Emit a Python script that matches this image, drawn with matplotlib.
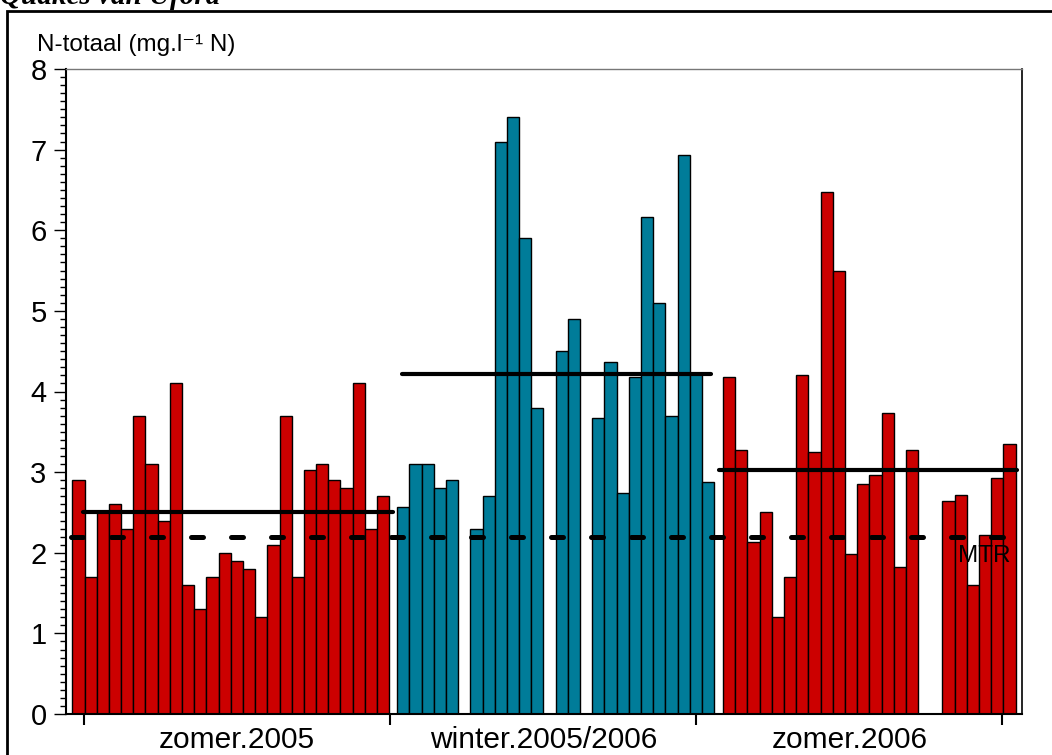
import numpy as np
import matplotlib.pyplot as plt
from matplotlib.patches import Rectangle
from matplotlib.ticker import MultipleLocator

plt.rcParams["font.family"] = ["Liberation Sans", "DejaVu Sans"]

# N-totaal per meetdag, gaten = geen meting
zomer_2005 = [2.9, 1.7, 2.5, 2.6, 2.3, 3.7, 3.1, 2.4, 4.1, 1.6, 1.3, 1.7, 2.0,
              1.9, 1.8, 1.2, 2.1, 3.7, 1.7, 3.03, 3.1, 2.9, 2.8, 4.1, 2.3, 2.7]
winter_2005_2006 = [2.57, 3.1, 3.1, 2.8, 2.9, np.nan, 2.3, 2.7, 7.1, 7.4, 5.9,
                    3.8, np.nan, 4.5, 4.9, np.nan, 3.67, 4.37, 2.74, 4.18, 6.17,
                    5.1, 3.7, 6.93, 4.22, 2.88]
zomer_2006 = [4.18, 3.28, 2.13, 2.5, 1.2, 1.7, 4.2, 3.25, 6.48, 5.5, 1.98, 2.85,
              2.97, 3.73, 1.82, 3.28, np.nan, np.nan, 2.64, 2.72, 1.6, 2.22,
              2.93, 3.35]
seizoenen = ["zomer.2005", "winter.2005/2006", "zomer.2006"]
mtr = 2.2

series = [zomer_2005, winter_2005_2006, zomer_2006]
kleuren = ["#cc0000", "#007c99", "#cc0000"]
# start of each season block in bar slots, and span of the mean line
offsets = [0.0, 26.66, 53.4]
mean_spans = [(0.88, 26.3), (27.05, 52.4), (53.1, 77.5)]
grenzen = [0.96 + 25.12 * i for i in range(4)]

fig = plt.figure(figsize=(10.52, 7.55), dpi=100)
ax = fig.add_axes([66 / 1052, 41 / 755, (1021.7 - 66) / 1052, (714 - 69) / 755])

for vals, off, kleur, span in zip(series, offsets, kleuren, mean_spans):
    vals = np.array(vals, dtype=float)
    x = off + np.arange(len(vals)) + 0.5
    ax.bar(x, vals, width=1.0, color=kleur, edgecolor="black", linewidth=1.0, zorder=2)
    ax.plot(span, [np.nanmean(vals)] * 2, color="black", lw=3.0,
            solid_capstyle="round", zorder=3)

ax.plot([-0.1, 77.6], [mtr, mtr], color="black", lw=3.6, linestyle=(0, (2.4, 5.6)),
        dash_capstyle="round", zorder=3)
ax.text(77.0, mtr - 0.1, "MTR", ha="right", va="top", fontsize=17.5, zorder=4)

ax.set_xlim(-0.52, 77.9)
ax.set_ylim(0, 8)

ax.yaxis.set_major_locator(MultipleLocator(1))
ax.yaxis.set_minor_locator(MultipleLocator(0.1))
ax.tick_params(axis="y", which="major", direction="out", length=9, width=1.0,
               labelsize=21, pad=5)
ax.tick_params(axis="y", which="minor", direction="out", length=4, width=1.0)

ax.set_xticks(grenzen)
ax.set_xticklabels([])
ax.set_xticks([(a + b) / 2 for a, b in zip(grenzen[:-1], grenzen[1:])], minor=True)
ax.set_xticklabels(seizoenen, minor=True)
ax.tick_params(axis="x", which="major", direction="out", length=8, width=1.5)
ax.tick_params(axis="x", which="minor", length=0, labelsize=21.5, pad=9)

ax.spines["left"].set_linewidth(1.5)
ax.spines["bottom"].set_linewidth(1.5)
ax.spines["right"].set_linewidth(1.2)
ax.spines["top"].set_color("#777777")
ax.spines["top"].set_linewidth(1.0)

fig.text(37 / 1052, 1 - 45 / 755, "N-totaal (mg.l\u207b\u00b9 N)", ha="left", va="center",
         fontsize=17.5)

# frame around the figure, cut off by the page edge
fig.add_artist(Rectangle((7 / 1052, -0.1), 1.2, 1.1 - 11 / 755, transform=fig.transFigure,
                         fill=False, edgecolor="black", linewidth=2.0))
fig.text(0.0, 1 + 3 / 755, "Quakes van Uford", ha="left", va="center", fontsize=21,
         fontweight="bold", fontstyle="italic", family="Liberation Serif")

fig.savefig("out.png", dpi=100)
